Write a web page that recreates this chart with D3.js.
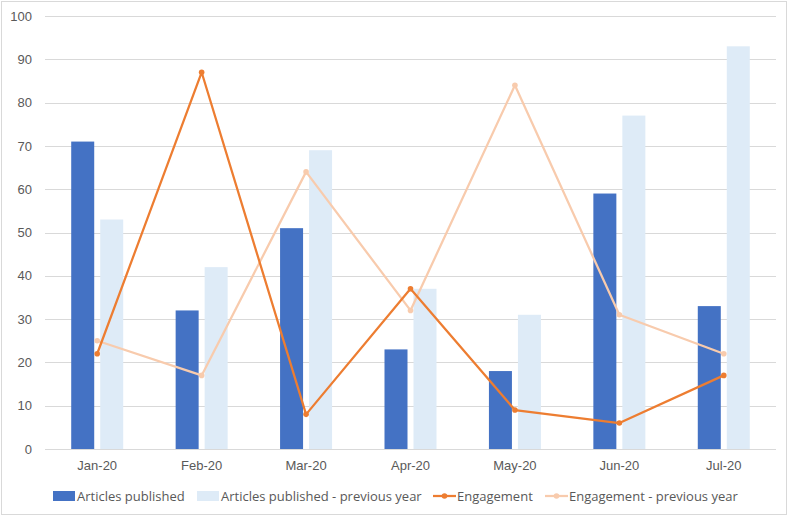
<!DOCTYPE html>
<html>
  <head>
    <meta charset="utf-8">
    <script src="https://d3js.org/d3.v7.min.js"></script>
    <style type="text/css">
      body { margin: 0; background: #fff; }
      svg { display: block; font-family: "Open Sans", "Liberation Sans", sans-serif; }
      .grid line { stroke: #d9d9d9; stroke-width: 1; }
      .axis text { fill: #595959; font-size: 13px; }
      .legend text { fill: #595959; font-size: 13px; }
    </style>
  </head>
  <body>
    <div id="chart"></div>
    <script type="text/javascript">
      var months = ["Jan-20", "Feb-20", "Mar-20", "Apr-20", "May-20", "Jun-20", "Jul-20"];
      var articles = [71, 32, 51, 23, 18, 59, 33];
      var articlesPrev = [53, 42, 69, 37, 31, 77, 93];
      var engagement = [22, 87, 8, 37, 9, 6, 17];
      var engagementPrev = [25, 17, 64, 32, 84, 31, 22];
      var yTicks = [0, 10, 20, 30, 40, 50, 60, 70, 80, 90, 100];

      // note: "top" is taken by window.top, so use plot* names
      var width = 789, height = 517,
          plotLeft = 45, plotRight = 776, plotTop = 16, plotBottom = 449;

      var svg = d3.select("#chart").append("svg")
        .attr("width", width)
        .attr("height", height);

      // outer border
      svg.append("rect")
        .attr("x", 1.5).attr("y", 1.5)
        .attr("width", 785).attr("height", 513)
        .attr("fill", "#fff")
        .attr("stroke", "#d9d9d9");

      var x = d3.scaleBand().domain(months).range([plotLeft, plotRight]);
      var y = d3.scaleLinear().domain([0, 100]).range([plotBottom, plotTop]);

      // gridlines
      svg.append("g").attr("class", "grid")
        .selectAll("line")
        .data(yTicks)
        .enter().append("line")
          .attr("x1", plotLeft).attr("x2", plotRight)
          .attr("y1", function(d) { return Math.round(y(d)) + 0.5; })
          .attr("y2", function(d) { return Math.round(y(d)) + 0.5; });

      // y labels
      var yAxis = svg.append("g").attr("class", "axis")
        .attr("transform", "translate(32,0)")
        .call(d3.axisLeft(y).tickValues(yTicks).tickSize(0).tickPadding(0));
      yAxis.select(".domain").remove();

      // x labels
      var xAxis = svg.append("g").attr("class", "axis")
        .attr("transform", "translate(0," + plotBottom + ")")
        .call(d3.axisBottom(x).tickSize(0).tickPadding(12));
      xAxis.select(".domain").remove();

      var barW = 23, gap = 6;
      function bars(values, color, offset) {
        svg.append("g").selectAll("rect")
          .data(values)
          .enter().append("rect")
            .attr("x", function(d, i) { return x(months[i]) + x.bandwidth() / 2 + offset; })
            .attr("y", function(d) { return y(d); })
            .attr("width", barW)
            .attr("height", function(d) { return plotBottom - y(d); })
            .attr("fill", color);
      }
      bars(articles, "#4472c4", -barW - gap / 2);
      bars(articlesPrev, "#deebf7", gap / 2);

      var line = d3.line()
        .x(function(d, i) { return x(months[i]) + x.bandwidth() / 2; })
        .y(function(d) { return y(d); });

      function series(values, color) {
        var g = svg.append("g");
        g.append("path")
          .datum(values)
          .attr("d", line)
          .attr("fill", "none")
          .attr("stroke", color)
          .attr("stroke-width", 2.25)
          .attr("stroke-linejoin", "round");
        g.selectAll("circle")
          .data(values)
          .enter().append("circle")
            .attr("cx", function(d, i) { return x(months[i]) + x.bandwidth() / 2; })
            .attr("cy", function(d) { return y(d); })
            .attr("r", 2.8)
            .attr("fill", color);
      }
      series(engagementPrev, "#f8cbad");
      series(engagement, "#ed7d31");

      // legend
      var legendItems = [
        {name: "Articles published", color: "#4472c4", type: "bar", x: 53},
        {name: "Articles published - previous year", color: "#deebf7", type: "bar", x: 197},
        {name: "Engagement", color: "#ed7d31", type: "line", x: 433},
        {name: "Engagement - previous year", color: "#f8cbad", type: "line", x: 545}
      ];
      var ly = 496;
      var legend = svg.append("g").attr("class", "legend")
        .selectAll("g")
        .data(legendItems)
        .enter().append("g")
          .attr("transform", function(d) { return "translate(" + d.x + "," + ly + ")"; });
      legend.filter(function(d) { return d.type === "bar"; })
        .append("rect")
          .attr("x", 0).attr("y", -5)
          .attr("width", 22).attr("height", 10)
          .attr("fill", function(d) { return d.color; });
      legend.filter(function(d) { return d.type === "line"; })
        .append("line")
          .attr("x1", 0).attr("x2", 23)
          .attr("stroke", function(d) { return d.color; })
          .attr("stroke-width", 2.25);
      legend.filter(function(d) { return d.type === "line"; })
        .append("circle")
          .attr("cx", 11.5).attr("r", 2.8)
          .attr("fill", function(d) { return d.color; });
      legend.append("text")
        .attr("x", 24)
        .attr("dy", "0.35em")
        .text(function(d) { return d.name; });
    </script>
  </body>
</html>
